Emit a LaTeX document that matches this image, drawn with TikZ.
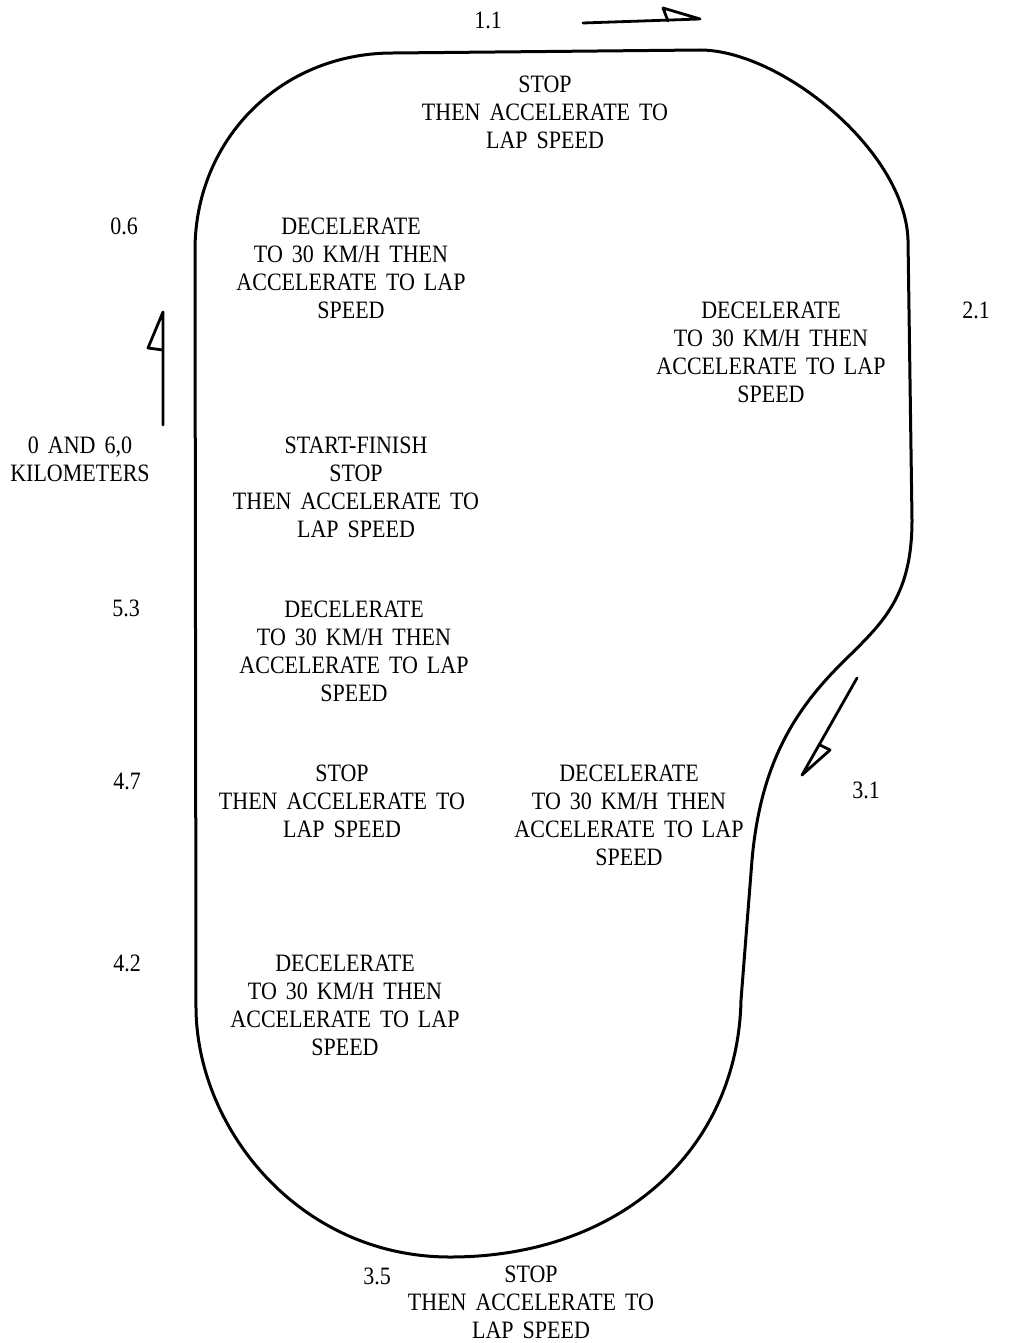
\documentclass[tikz,border=0pt]{standalone}
\usepackage{fontspec}
\setmainfont{Liberation Serif}[FakeStretch=0.88]
\newcommand\lblfont{\fontsize{12.5}{14}\selectfont\spaceskip=0.36em plus 0.1em\relax}
\begin{document}
\begin{tikzpicture}[x=0.5pt,y=-0.5pt,
  track/.style={line width=1.5pt, line join=round, line cap=round},
  arr/.style={line width=1.4pt, line join=round, line cap=round},
  lbl/.style={align=center, inner sep=0pt, font=\lblfont}]
\useasboundingbox (0,0) rectangle (1008,1343);
% track outline
\draw[track] (196,1010) -- (195,250)
  .. controls (195,140) and (280,53) .. (393,53)
  -- (700,50)
  .. controls (780,50) and (905,150) .. (908,240)
  -- (912,520)
  .. controls (912,600) and (880,625) .. (840,665)
  .. controls (790,715) and (760,770) .. (752,860)
  -- (741,1000)
  .. controls (738,1150) and (620,1257) .. (450,1257)
  .. controls (300,1257) and (198,1130) .. (196,1010) -- cycle;
% direction arrows
\draw[arr] (583,23) -- (700,19) -- (663,8) -- (668,21);
\draw[arr] (163,425) -- (163,312) -- (148,348) -- (163,350);
\draw[arr] (857,678) -- (802,775) -- (830,750) -- (820,745);
% kilometre marks
\node[lbl] (k11) at (488,20) {1.1};
\node[lbl] (k06) at (124,226) {0.6};
\node[lbl] (k21) at (976,310) {2.1};
\node[lbl] (k0) at (80,459) {0 AND 6,0\\KILOMETERS};
\node[lbl] (k53) at (126,608) {5.3};
\node[lbl] (k47) at (127,781) {4.7};
\node[lbl] (k31) at (866,790) {3.1};
\node[lbl] (k42) at (127,963) {4.2};
\node[lbl] (k35) at (377,1276) {3.5};
% instructions
\node[lbl] (t1) at (545,112) {STOP\\THEN ACCELERATE TO\\LAP SPEED};
\node[lbl] (t2) at (351,268) {DECELERATE\\TO 30 KM/H THEN\\ACCELERATE TO LAP\\SPEED};
\node[lbl] (t3) at (771,352) {DECELERATE\\TO 30 KM/H THEN\\ACCELERATE TO LAP\\SPEED};
\node[lbl] (t4) at (356,487) {START-FINISH\\STOP\\THEN ACCELERATE TO\\LAP SPEED};
\node[lbl] (t5) at (354,651) {DECELERATE\\TO 30 KM/H THEN\\ACCELERATE TO LAP\\SPEED};
\node[lbl] (t6) at (342,801) {STOP\\THEN ACCELERATE TO\\LAP SPEED};
\node[lbl] (t7) at (629,815) {DECELERATE\\TO 30 KM/H THEN\\ACCELERATE TO LAP\\SPEED};
\node[lbl] (t8) at (345,1005) {DECELERATE\\TO 30 KM/H THEN\\ACCELERATE TO LAP\\SPEED};
\node[lbl] (t9) at (531,1302) {STOP\\THEN ACCELERATE TO\\LAP SPEED};
\end{tikzpicture}
\end{document}
